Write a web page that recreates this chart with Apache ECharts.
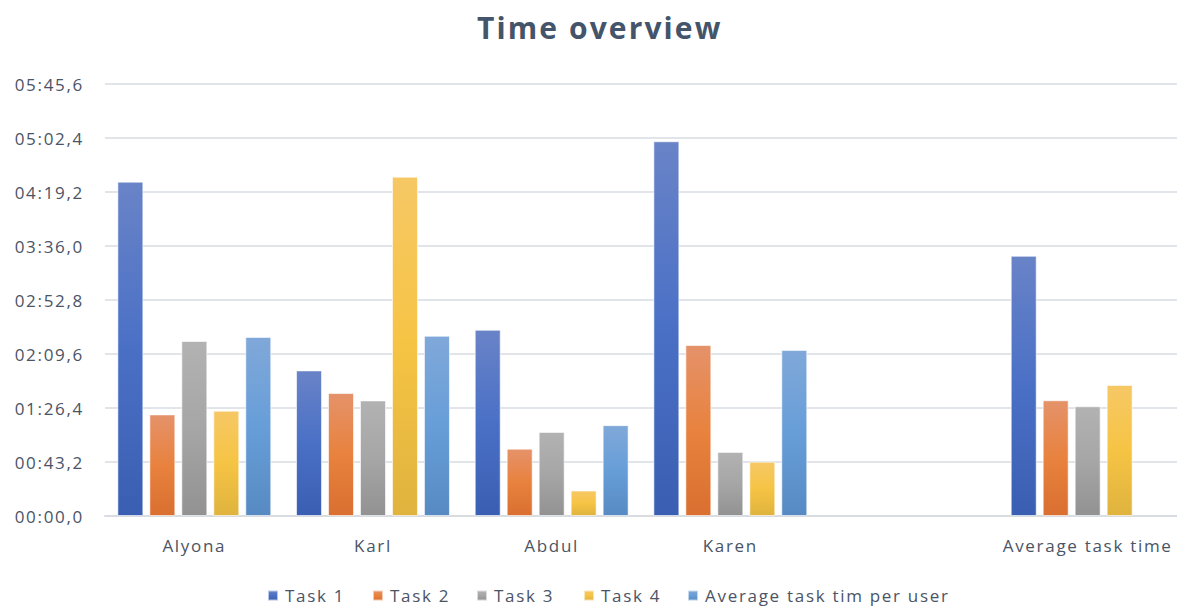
<!DOCTYPE html>
<html>
<head>
<meta charset="utf-8">
<script src="https://cdn.jsdelivr.net/npm/echarts@6/dist/echarts.min.js"></script>
<style>
  html, body { margin: 0; padding: 0; background: #ffffff; }
  #chart { width: 1177px; height: 606px; }
  /* slightly open tracking for chart text; tighter for the bold heading */
  #chart svg text { letter-spacing: 0.1em; }
  #chart svg text[style*="bold"] { letter-spacing: 0.07em; }
</style>
</head>
<body>
<div id="chart"></div>
<script>
// Time per task, in seconds. The blank category keeps a gap before the overall averages.
const categories = ['Alyona', 'Karl', 'Abdul', 'Karen', '', 'Average task time'];
const task1 = [267.5, 116.5, 149.0, 299.8, null, 208.2];
const task2 = [81.3, 98.4, 53.9, 136.8, null, 92.6];
const task3 = [140.0, 92.5, 67.3, 51.3, null, 87.8];
const task4 = [84.3, 271.5, 20.4, 43.5, null, 104.9];
const avgPerUser = [143.3, 144.2, 72.7, 132.9, null, null];
const seriesNames = ['Task 1', 'Task 2', 'Task 3', 'Task 4', 'Average task tim per user'];

const yMax = 345.6;
const yStep = 43.2;

// legend entries are laid out one per column
const legendLeft = [267, 372, 476, 583, 687];

// light top, base middle, darker bottom
const palettes = [
  ['#6983c7', '#4a70c6', '#3a5eb1'],
  ['#e5926a', '#e8823e', '#d96f30'],
  ['#b2b2b2', '#a6a6a6', '#929292'],
  ['#f6c865', '#f6c444', '#dfb33e'],
  ['#80a8d9', '#679ed8', '#578ac2']
];

function grad(p) {
  return new echarts.graphic.LinearGradient(0, 0, 0, 1, [
    { offset: 0, color: p[0] },
    { offset: 0.5, color: p[1] },
    { offset: 1, color: p[2] }
  ]);
}

function fmtTime(v) {
  const tenths = Math.round(v * 10);
  const m = Math.floor(tenths / 600);
  const rest = tenths - m * 600;
  const s = Math.floor(rest / 10);
  const d = rest % 10;
  return String(m).padStart(2, '0') + ':' + String(s).padStart(2, '0') + ',' + d;
}

const textColor = '#4a5466';
const font = 'Open Sans';

const dataSets = [task1, task2, task3, task4, avgPerUser];

const chart = echarts.init(document.getElementById('chart'), null, { renderer: 'svg' });
chart.setOption({
  animation: false,
  backgroundColor: '#ffffff',
  title: {
    text: 'Time overview',
    left: 472,
    top: 7,
    textStyle: { fontFamily: font, fontSize: 30, fontWeight: 'bold', color: '#44546a' }
  },
  legend: seriesNames.map((name, i) => ({
    data: [name],
    left: legendLeft[i],
    top: 587,
    padding: 0,
    itemWidth: 10,
    itemHeight: 10,
    icon: 'rect',
    textStyle: { fontFamily: font, fontSize: 17, color: textColor, padding: [0, 0, 0, 2] }
  })),
  grid: { left: 105, right: -2, top: 84, bottom: 90, containLabel: false },
  xAxis: {
    type: 'category',
    data: categories,
    axisLine: { show: true, lineStyle: { color: '#d9dce1', width: 2 } },
    axisTick: { show: false },
    axisLabel: { interval: 0, fontFamily: font, fontSize: 17, color: textColor, margin: 21 }
  },
  yAxis: {
    type: 'value',
    min: 0,
    max: yMax,
    interval: yStep,
    axisLine: { show: false },
    axisTick: { show: false },
    splitLine: { lineStyle: { color: '#e1e4e8', width: 2 } },
    axisLabel: {
      fontFamily: font, fontSize: 17, color: textColor, margin: 21,
      formatter: fmtTime
    }
  },
  series: dataSets.map((d, i) => ({
    name: seriesNames[i],
    type: 'bar',
    data: d,
    barWidth: 26,
    barGap: '23%',
    itemStyle: { color: grad(palettes[i]), borderColor: 'rgba(255,255,255,0.6)', borderWidth: 1 }
  }))
});
</script>
</body>
</html>
